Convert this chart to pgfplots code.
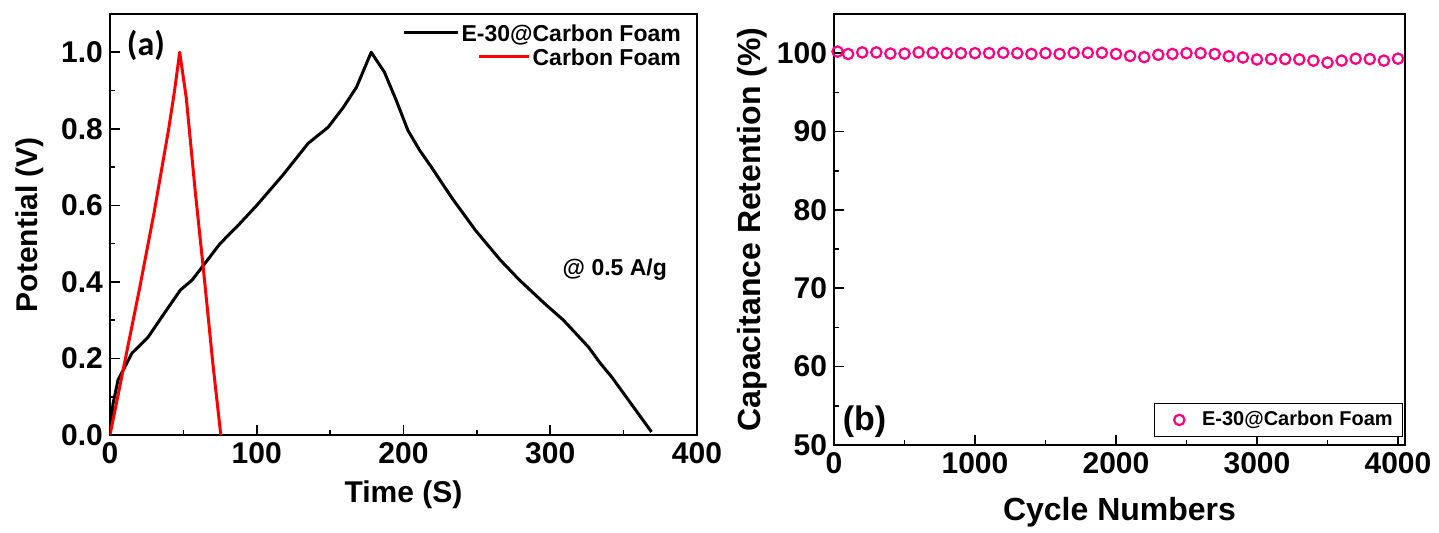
\documentclass[border=0pt]{standalone}
\usepackage{pgfplots}
\pgfplotsset{compat=1.18}
\usepackage{fontspec}
\setmainfont{Liberation Sans}
\newfontfamily\calibri{Carlito}
\definecolor{pinkm}{RGB}{255,0,128}

\begin{document}
\begin{tikzpicture}
\useasboundingbox (-55pt,-48.5pt) rectangle (664.5pt,217.5pt);
\pgfplotsset{
  every axis/.append style={
    scale only axis,
    axis line style={line width=0.8pt},
    tick align=inside,
    xtick pos=bottom, ytick pos=left,
    minor tick num=1,
    major tick length=5pt, minor tick length=2.5pt,
    tick style={line width=0.8pt, black},
    /pgf/number format/assume math mode=true,
    tick label style={font=\fontsize{15}{18}\selectfont\bfseries},
  }
}

% (a) charge-discharge
\begin{axis}[
  width=293.5pt, height=210.5pt,
  xmin=0, xmax=400, ymin=0, ymax=1.1,
  xtick={0,100,200,300,400},
  ytick={0,0.2,0.4,0.6,0.8,1.0},
  yticklabel style={/pgf/number format/.cd, fixed, fixed zerofill, precision=1},
  xlabel={Time (S)}, ylabel={Potential (V)},
  label style={font=\fontsize{15}{18}\selectfont\bfseries},
  xlabel style={at={(axis description cs:0.5,-0.1425)}, anchor=center},
  ylabel style={at={(axis description cs:-0.136,0.5)}, anchor=center},
  legend style={draw=none, fill=none, at={(0.98,0.985)}, anchor=north east,
    font=\fontsize{11.5}{13}\selectfont\bfseries, row sep=-2pt,
    inner sep=0pt},
  legend cell align=right,
  legend image code/.code={},
]
\addplot[black, line width=1.5pt, line join=round] coordinates {
  (0,0) (2,0.08) (5.5,0.144) (15,0.214) (26,0.256) (37,0.318) (48,0.379)
  (56,0.405) (75,0.50) (88.6,0.553) (100,0.60) (118,0.68) (135,0.762)
  (148.6,0.804) (159,0.856) (168,0.909) (178,1.0) (187,0.948) (195,0.875)
  (203,0.796) (211,0.744) (219,0.70) (228,0.648) (234,0.614) (249,0.535)
  (266,0.457) (279,0.405) (296,0.344) (309,0.30) (326,0.23) (334,0.188)
  (342,0.151) (369,0.008)
};
\addlegendentry{\textcolor{black}{\rule[0.3em]{27pt}{1.5pt}}\,E-30@Carbon Foam}
\addplot[red, line width=1.5pt, line join=round] coordinates {
  (0,0) (10,0.19) (20,0.38) (30,0.58) (40,0.80) (44,0.90) (47.5,1.0)
  (52,0.88) (58,0.64) (64,0.42) (70,0.19) (75.5,0.0)
};
\addlegendentry{\textcolor{red}{\rule[0.3em]{25pt}{1.5pt}}\,Carbon Foam}
\node[font=\fontsize{11.5}{13}\selectfont\bfseries] at (axis cs:344,0.431) {@ 0.5 A/g};
\node[font=\fontsize{17}{20}\calibri\bfseries] at (axis cs:24.5,1.018) {(a)};
\end{axis}

% (b) cycling stability
\begin{axis}[
  at={(362pt,-5pt)}, anchor=south west,
  width=285.5pt, height=215.5pt,
  xmin=0, xmax=4050, ymin=50, ymax=105,
  xtick={0,1000,2000,3000,4000},
  ytick={50,60,70,80,90,100},
  scaled x ticks=false,
  xticklabel style={/pgf/number format/1000 sep={}},
  xlabel={Cycle Numbers}, ylabel={Capacitance Retention (\%)},
  label style={font=\fontsize{16}{19}\selectfont\bfseries},
  xlabel style={at={(axis description cs:0.5,-0.155)}, anchor=center},
  ylabel style={at={(axis description cs:-0.1436,0.5)}, anchor=center},
  legend style={at={(0.997,0.018)}, anchor=south east, draw=black,
    line width=0.6pt, font=\fontsize{10}{12}\selectfont\bfseries,
    inner xsep=3pt, inner ysep=2pt},
  legend cell align=left,
  legend image code/.code={
    \path (-0.01cm,0cm) (0.61cm,0cm);
    \draw[mark repeat=2,mark phase=2,#1] plot coordinates {(0cm,0cm) (0.3cm,0cm) (0.6cm,0cm)};
  },
]
\addplot[only marks, mark=o, mark size=2.6pt, pinkm, line width=1.1pt] coordinates {
  (25,100.2) (100,99.9) (200,100.1) (300,100.1) (400,99.95) (500,99.95)
  (600,100.1) (700,100.05) (800,100.0) (900,100.0) (1000,100.0) (1100,100.0)
  (1200,100.05) (1300,100.0) (1400,99.9) (1500,100.0) (1600,99.9) (1700,100.05)
  (1800,100.05) (1900,100.05) (2000,99.9) (2100,99.65) (2200,99.5) (2300,99.8)
  (2400,99.9) (2500,100.0) (2600,100.0) (2700,99.9) (2800,99.6) (2900,99.45)
  (3000,99.2) (3100,99.25) (3200,99.25) (3300,99.2) (3400,99.05) (3500,98.8)
  (3600,99.05) (3700,99.3) (3800,99.25) (3900,99.05) (4000,99.3)
};
\addlegendentry{E-30@Carbon Foam}
\node[font=\fontsize{17}{20}\selectfont\bfseries] at (axis cs:216,52.96) {(b)};
\end{axis}
\end{tikzpicture}
\end{document}
